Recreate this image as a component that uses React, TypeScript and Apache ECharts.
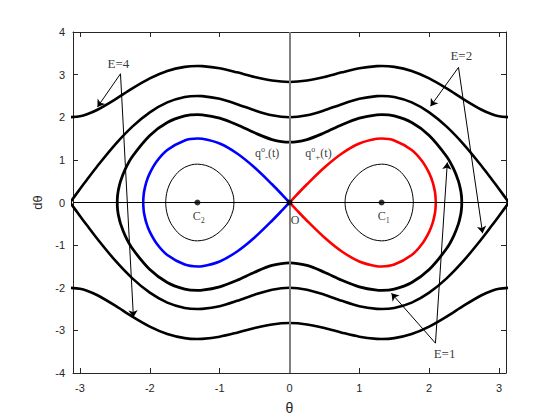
import React, { useEffect, useRef } from "react";
import * as echarts from "echarts";

// Axis ticks
const xTicks = [-3, -2, -1, 0, 1, 2, 3];
const yTicks = [-4, -3, -2, -1, 0, 1, 2, 3, 4];

// Upper branch (θ >= 0) of the open orbits E=4 and E=2
const thetaOpen = [0, 0.25, 0.5, 0.75, 1.0, 1.25, 1.318, 1.5, 1.75, 2.0, 2.25, 2.5, 2.75, 2.9, 3.0, 3.1416];
const pE4 = [2.828, 2.8605, 2.9453, 3.0532, 3.1485, 3.1989, 3.2016, 3.1814, 3.0849, 2.9112, 2.6768, 2.4146, 2.1758, 2.0705, 2.0248, 2.0];
const pE2 = [2.0, 2.0452, 2.1621, 2.3069, 2.4317, 2.4966, 2.5, 2.4742, 2.3487, 2.1154, 1.7791, 1.3529, 0.8568, 0.5357, 0.3158, 0];

// Upper branch (θ >= 0) of the closed orbit E=1
const thetaE1 = [0, 0.25, 0.5, 0.75, 1.0, 1.25, 1.318, 1.5, 1.75, 2.0, 2.25, 2.35, 2.42, 2.45, 2.46, 2.465, 2.4664];
const pE1 = [1.4142, 1.4774, 1.6354, 1.8226, 1.9781, 2.0574, 2.0616, 2.0302, 1.8752, 1.5732, 1.0795, 0.787, 0.4944, 0.2951, 0.1868, 0.0942, 0];

// Upper branch of the homoclinic orbit q°+(t) (right lobe)
const thetaSep = [0, 0.1, 0.25, 0.5, 0.75, 1.0, 1.25, 1.318, 1.5, 1.75, 1.9, 2.0, 2.05, 2.08, 2.09, 2.0944];
const pSep = [0, 0.1728, 0.4274, 0.8213, 1.1497, 1.3831, 1.4943, 1.5, 1.4565, 1.2314, 0.9671, 0.6892, 0.477, 0.2728, 0.1483, 0];

// Upper branch of the small orbit around C1
const thetaInner = [0.7954, 0.8, 0.81, 0.85, 0.9, 1.0, 1.1, 1.2, 1.318, 1.4, 1.5, 1.6, 1.7, 1.74, 1.76, 1.77, 1.7722];
const pInner = [0, 0.1087, 0.1933, 0.371, 0.5076, 0.6877, 0.8026, 0.8715, 0.9, 0.8857, 0.8255, 0.7058, 0.4857, 0.3317, 0.2059, 0.0871, 0];

// Equilibria
const centres = [[-1.318, 0], [0, 0], [1.318, 0]];
const centreLabels = ["{c|C}{s|2}", "{c|O}", "{c|C}{s|1}"];
const centreLabelPos = [[-1.3, -0.32], [0.08, -0.42], [1.35, -0.32]];

// Trajectory labels
const trajLabels = ["{q|q}{sup|o}{sub|-}{q|(t)}", "{q|q}{sup|o}{sub|+}{q|(t)}"];
const trajLabelPos = [[-0.32, 1.16], [0.415, 1.16]];

// Energy annotations
const energyLabels = ["E=4", "E=2", "E=1"];
const energyLabelPos = [[-2.45, 3.27], [2.46, 3.45], [2.22, -3.54]];
const arrowStart = [[-2.42, 3.02], [2.42, 3.17], [2.09, -3.3]];
const arrowEnds = [
  [[-2.75, 2.24], [-2.235, -2.69]],
  [[2.02, 2.26], [2.765, -0.72]],
  [[1.46, -2.13], [2.26, 0.94]],
];

const SERIF = '"Liberation Serif", "Times New Roman", serif';
const SANS = '"Liberation Sans", Arial, sans-serif';

function fullOpen(thetas: number[], ps: number[], sign: number) {
  const left: number[][] = [];
  for (let i = thetas.length - 1; i >= 1; i--) left.push([-thetas[i], sign * ps[i]]);
  const right = thetas.map((t, i) => [t, sign * ps[i]]);
  return left.concat(right);
}

function loop(thetas: number[], ps: number[], mirror: number) {
  const upper = thetas.map((t, i) => [mirror * t, ps[i]]);
  const lower: number[][] = [];
  for (let i = thetas.length - 2; i >= 0; i--) lower.push([mirror * thetas[i], -ps[i]]);
  return upper.concat(lower);
}

function symLoop(thetas: number[], ps: number[]) {
  const up = fullOpen(thetas, ps, 1);
  const lower: number[][] = [];
  for (let i = up.length - 2; i >= 0; i--) lower.push([up[i][0], -up[i][1]]);
  return up.concat(lower);
}

export default function App() {
  const ref = useRef<HTMLDivElement>(null);
  useEffect(() => {
    if (!ref.current) return;
    const chart = echarts.init(ref.current, undefined, { renderer: "svg" });

    const curve = (name: string, data: number[][], color: string, width: number) => ({
      name,
      type: "line",
      data,
      smooth: 0.3,
      showSymbol: false,
      symbol: "none",
      z: 3,
      silent: true,
      lineStyle: { color, width },
    });

    const arrowData: any[] = [];
    arrowStart.forEach((s, i) => {
      arrowEnds[i].forEach((e) => arrowData.push([{ coord: s }, { coord: e }]));
    });

    const textItems: any[] = [];
    energyLabels.forEach((t, i) =>
      textItems.push({
        value: energyLabelPos[i],
        label: { formatter: t, fontFamily: SERIF, fontSize: 13, color: "#000" },
      })
    );
    trajLabels.forEach((t, i) =>
      textItems.push({
        value: trajLabelPos[i],
        label: { formatter: t },
      })
    );
    centreLabels.forEach((t, i) =>
      textItems.push({
        value: centreLabelPos[i],
        label: { formatter: t },
      })
    );

    const axisCommon = {
      type: "value",
      axisLine: { show: true, onZero: false, lineStyle: { color: "#262626", width: 1 } },
      axisTick: { show: true, inside: true, length: 5, lineStyle: { color: "#262626" } },
      splitLine: { show: false },
    };

    chart.setOption({
      animation: false,
      backgroundColor: "#fff",
      grid: { left: 73, right: 54, top: 32, bottom: 47 },
      xAxis: [
        {
          ...axisCommon,
          position: "bottom",
          min: -3.1,
          max: 3.1,
          axisTick: { ...axisCommon.axisTick, customValues: xTicks },
          axisLabel: { customValues: xTicks, fontSize: 11, fontFamily: SANS, color: "#262626", margin: 9 },
          name: "θ",
          nameLocation: "middle",
          nameGap: 28,
          nameTextStyle: { fontFamily: SANS, fontSize: 14, color: "#262626" },
        },
        {
          ...axisCommon,
          position: "top",
          min: -3.1,
          max: 3.1,
          axisTick: { ...axisCommon.axisTick, customValues: xTicks },
          axisLabel: { show: false, customValues: xTicks },
        },
      ],
      yAxis: [
        {
          ...axisCommon,
          position: "left",
          min: -4,
          max: 4,
          interval: 1,
          axisLabel: { fontSize: 11, fontFamily: SANS, color: "#262626", margin: 8 },
          name: "dθ",
          nameLocation: "middle",
          nameGap: 17,
          nameTextStyle: { fontFamily: SANS, fontSize: 13, color: "#262626" },
        },
        {
          ...axisCommon,
          position: "right",
          min: -4,
          max: 4,
          interval: 1,
          axisLabel: { show: false },
        },
      ],
      series: [
        {
          type: "line",
          data: [[0, 0]],
          symbol: "none",
          silent: true,
          z: 1,
          lineStyle: { width: 0 },
          markLine: {
            silent: true,
            symbol: ["none", "none"],
            label: { show: false },
            animation: false,
            data: [
              { xAxis: 0, lineStyle: { color: "#808080", width: 2, type: "solid" } },
              { yAxis: 0, lineStyle: { color: "#000", width: 1, type: "solid" } },
            ],
          },
        },
        curve("E4 upper", fullOpen(thetaOpen, pE4, 1), "#000", 2.6),
        curve("E4 lower", fullOpen(thetaOpen, pE4, -1), "#000", 2.6),
        curve("E2 upper", fullOpen(thetaOpen, pE2, 1), "#000", 2.6),
        curve("E2 lower", fullOpen(thetaOpen, pE2, -1), "#000", 2.6),
        curve("E1", symLoop(thetaE1, pE1), "#000", 2.8),
        curve("q+", loop(thetaSep, pSep, 1), "#ff0000", 2.6),
        curve("q-", loop(thetaSep, pSep, -1), "#0000ff", 2.6),
        curve("inner right", loop(thetaInner, pInner, 1), "#000", 1),
        curve("inner left", loop(thetaInner, pInner, -1), "#000", 1),
        {
          type: "scatter",
          data: centres,
          symbol: "circle",
          symbolSize: 6,
          itemStyle: { color: "#000" },
          z: 5,
          silent: true,
        },
        {
          type: "line",
          data: [[0, 0]],
          symbol: "none",
          silent: true,
          z: 4,
          lineStyle: { width: 0 },
          markLine: {
            silent: true,
            symbol: ["none", "arrow"],
            symbolSize: 7,
            label: { show: false },
            lineStyle: { color: "#000", width: 1, type: "solid" },
            data: arrowData,
          },
        },
        {
          type: "scatter",
          data: textItems,
          symbolSize: 0,
          silent: true,
          z: 6,
          label: {
            show: true,
            position: "inside",
            color: "#000",
            fontFamily: SERIF,
            rich: {
              q: { fontFamily: SERIF, fontSize: 12, color: "#000", lineHeight: 16 },
              sup: { fontFamily: SERIF, fontSize: 8, color: "#000", verticalAlign: "top", lineHeight: 16 },
              sub: { fontFamily: SERIF, fontSize: 9, color: "#000", verticalAlign: "bottom", lineHeight: 14 },
              c: { fontFamily: SERIF, fontSize: 12, color: "#000", lineHeight: 16 },
              s: { fontFamily: SERIF, fontSize: 8, color: "#000", verticalAlign: "bottom", lineHeight: 14 },
            },
          },
        },
      ],
    });
    return () => chart.dispose();
  }, []);
  return (
    <div
      ref={ref}
      style={{ position: "fixed", left: 0, top: 0, width: 560, height: 420, background: "#fff" }}
    />
  );
}
